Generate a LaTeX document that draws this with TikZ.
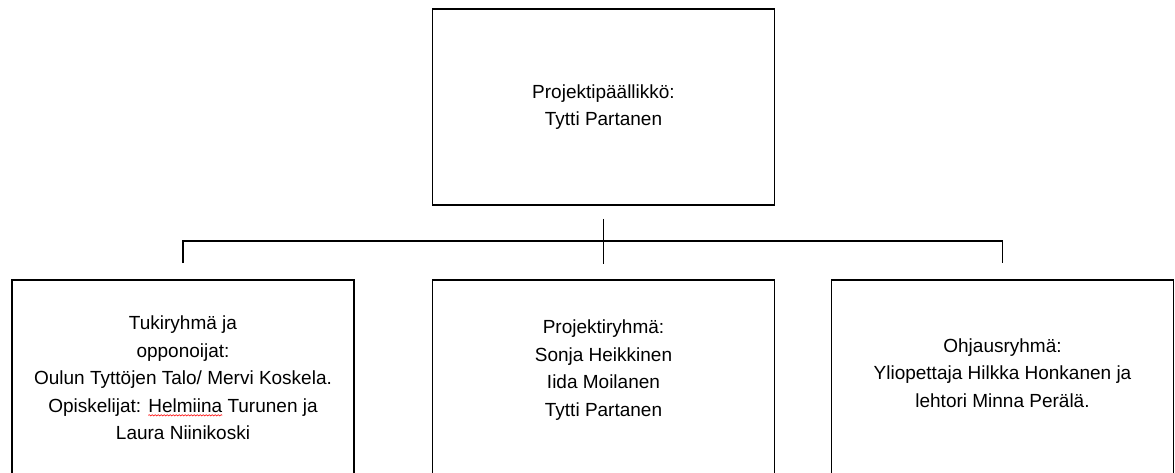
\documentclass[tikz,border=0pt]{standalone}
\usepackage{fontspec}
\setmainfont{Liberation Sans}
\usetikzlibrary{decorations.pathmorphing}
\newsavebox\wavebox
\newcommand\redwave[1]{\sbox\wavebox{#1}\usebox\wavebox\llap{\tikz[overlay]\draw[red,line width=.6pt,decorate,decoration={snake,amplitude=.6pt,segment length=3pt}] (0pt,-3pt) -- (\wd\wavebox,-3pt);\hspace{\wd\wavebox}}}

\begin{document}
\begin{tikzpicture}[x=1pt,y=-1pt]

        \clip (0,0) rectangle (1175,473);

        \begin{scope}[every node/.style={draw,rectangle,line width=1.8pt,minimum width=342pt,minimum height=196pt,align=center,font=\fontsize{19}{27.5}\selectfont}]
          \node (1) at (603.5,107) {Projektipäällikkö:\\Tytti Partanen};
          \node (2) at (183,378)   {Tukiryhmä ja\\opponoijat:\\Oulun Tyttöjen Talo/ Mervi Koskela.\\Opiskelijat: \redwave{Helmiina} Turunen ja\\Laura Niinikoski};
          \node[text depth=20pt] (3) at (603.5,378) {Projektiryhmä:\\Sonja Heikkinen\\Iida Moilanen\\Tytti Partanen};
          \node[text depth=10pt] (4) at (1002.5,378) {Ohjausryhmä:\\Yliopettaja Hilkka Honkanen ja\\lehtori Minna Perälä.};
        \end{scope}

        \coordinate (5)  at (603.5,219);
        \coordinate (6)  at (603.5,241);
        \coordinate (7)  at (603.5,264);
        \coordinate (8)  at (183,241);
        \coordinate (9)  at (183,263);
        \coordinate (10) at (1002.5,241);
        \coordinate (11) at (1002.5,263);

        \begin{scope}[every edge/.style={draw,line width=1.8pt}]
          \path (5) edge (7);
          \draw[line width=1.8pt] (9) -- (8) -- (10) -- (11);
        \end{scope}

      \end{tikzpicture}
\end{document}
